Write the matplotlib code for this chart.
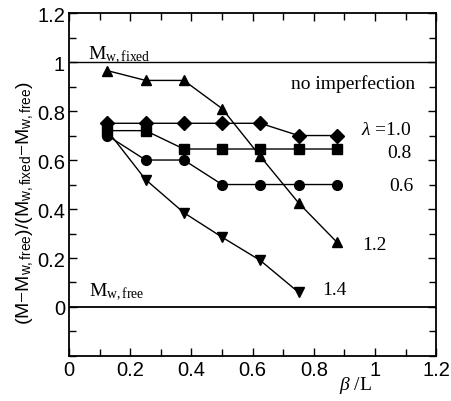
import matplotlib
matplotlib.use("Agg")
import matplotlib.pyplot as plt
from matplotlib.ticker import MultipleLocator

matplotlib.rcParams["mathtext.fontset"] = "custom"
matplotlib.rcParams["mathtext.rm"] = "Liberation Serif"
matplotlib.rcParams["mathtext.it"] = "Liberation Serif:italic"
matplotlib.rcParams["mathtext.sf"] = "Liberation Sans"

x = [0.125, 0.25, 0.375, 0.5, 0.625, 0.75, 0.875]
lam10 = [0.75, 0.75, 0.75, 0.75, 0.75, 0.70, 0.70]
lam08 = [0.72, 0.72, 0.645, 0.645, 0.645, 0.645, 0.645]
lam06 = [0.70, 0.60, 0.60, 0.50, 0.50, 0.50, 0.50]
lam12 = [0.965, 0.925, 0.925, 0.81, 0.615, 0.425, 0.265]
x14 = [0.125, 0.25, 0.375, 0.5, 0.625, 0.75]
lam14 = [0.72, 0.52, 0.385, 0.285, 0.19, 0.06]

fig = plt.figure(figsize=(4.52, 4.02), dpi=100)
ax = fig.add_axes([0.153, 0.112, 0.812, 0.853])

kw = dict(color="black", lw=1.0, markersize=7)
ax.plot(x, lam10, marker="D", markersize=7, color="black", lw=1.0)
ax.plot(x, lam08, marker="s", **kw)
ax.plot(x, lam06, marker="o", **kw)
ax.plot(x, lam12, marker="^", **kw)
ax.plot(x14, lam14, marker="v", **kw)

ax.axhline(1.0, color="black", lw=1.0)
ax.axhline(0.0, color="black", lw=1.3)

ax.set_xlim(0, 1.2)
ax.set_ylim(-0.2, 1.2)
ax.xaxis.set_minor_locator(MultipleLocator(0.1))
ax.yaxis.set_minor_locator(MultipleLocator(0.1))
ax.set_xticks([0, 0.2, 0.4, 0.6, 0.8, 1.0, 1.2])
ax.set_xticklabels(["0", "0.2", "0.4", "0.6", "0.8", "1", "1.2"])
ax.set_yticks([0, 0.2, 0.4, 0.6, 0.8, 1.0, 1.2])
ax.set_yticklabels(["0", "0.2", "0.4", "0.6", "0.8", "1", "1.2"])
ax.tick_params(which="both", direction="in", top=True, right=True, width=1.0)
ax.tick_params(which="major", length=6, labelsize=14.5, pad=3)
ax.tick_params(which="minor", length=5)
for lbl in ax.get_xticklabels() + ax.get_yticklabels():
    lbl.set_family("Liberation Sans")
for s in ax.spines.values():
    s.set_linewidth(1.3)

ax.set_ylabel(r"(M$-$M$_{\mathsf{w,free}}$)/(M$_{\mathsf{w,fixed}}$$-$M$_{\mathsf{w,free}}$)",
              fontsize=14, family="Liberation Sans")
ax.yaxis.set_label_coords(-0.09, 0.45)
ax.set_xlabel(r"$\beta$ /L", fontsize=14, family="Liberation Serif", va="center")
ax.xaxis.set_label_coords(0.78, -0.082)

serif = dict(family="Liberation Serif", fontsize=14, color="black")
ax.text(0.062, 1.016, r"M$_{\rm w,fixed}$", ha="left", va="baseline", **serif)
ax.text(0.065, 0.045, r"M$_{\rm w,free}$", ha="left", va="baseline", **serif)
ax.text(1.13, 0.915, "no imperfection", ha="right", va="center", **serif)
ax.text(1.12, 0.725, r"$\lambda$ =1.0", ha="right", va="center", **serif)
ax.text(1.12, 0.632, "0.8", ha="right", va="center", **serif)
ax.text(1.125, 0.494, "0.6", ha="right", va="center", **serif)
ax.text(0.958, 0.257, "1.2", ha="left", va="center", **serif)
ax.text(0.827, 0.073, "1.4", ha="left", va="center", **serif)

fig.savefig("out.png", dpi=100)
